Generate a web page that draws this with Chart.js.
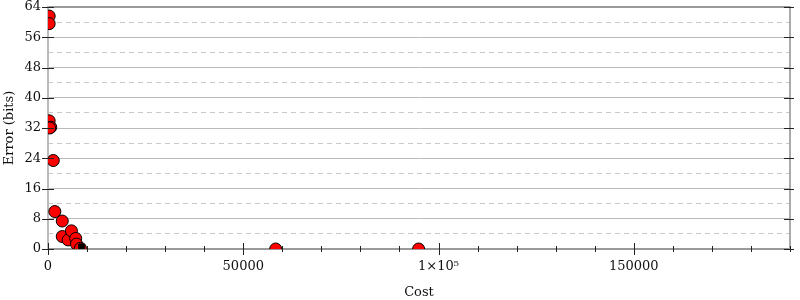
<!DOCTYPE html>
<html>
<head>
<meta charset="utf-8">
<script src="https://cdn.jsdelivr.net/npm/chart.js@4/dist/chart.umd.min.js"></script>
<style>
  html, body { margin: 0; padding: 0; background: #fff; }
  #wrap { width: 800px; height: 300px; }
</style>
</head>
<body>
<div id="wrap"><canvas id="errChart"></canvas></div>
<script>
// data
const costValues = [300, 300, 300, 700, 400, 1350, 1750, 3650, 3650, 5150, 6000, 7100, 7300, 8300, 58300, 94900];
const errorValues = [61.6, 59.6, 33.9, 32.2, 32.0, 23.4, 9.9, 7.4, 3.3, 2.4, 4.8, 2.8, 1.3, 0.2, 0, 0];
const bestCost = [8570];
const bestError = [0.6];
const xLabels = { 0: '0', 50000: '50000', 100000: '1×10⁵', 150000: '150000' };

const toPoints = (xs, ys) => xs.map((x, i) => ({ x: x, y: ys[i] }));

// gnuplot style mirrored tick marks
const tickMarks = {
    id: 'tickMarks',
    afterDraw(chart) {
        const { ctx, chartArea: a, scales } = chart;
        ctx.save();
        ctx.strokeStyle = '#222';
        ctx.lineWidth = 1;
        scales.x.ticks.forEach(t => {
            const px = Math.round(scales.x.getPixelForValue(t.value)) + 0.5;
            const major = t.value % 50000 === 0;
            ctx.beginPath();
            ctx.moveTo(px, a.bottom - (major ? 6 : 3));
            ctx.lineTo(px, a.bottom + (major ? 6 : 3));
            ctx.stroke();
        });
        scales.y.ticks.forEach(t => {
            const py = Math.round(scales.y.getPixelForValue(t.value)) + 0.5;
            const major = t.value % 8 === 0;
            const len = major ? 6 : 3;
            ctx.beginPath();
            ctx.moveTo(a.left - len, py);
            ctx.lineTo(a.left + len, py);
            ctx.moveTo(a.right - len, py);
            ctx.lineTo(a.right + (major ? 4 : 2), py);
            ctx.stroke();
        });
        ctx.restore();
    }
};

const serif = "'DejaVu Serif', serif";

new Chart(document.getElementById('errChart').getContext('2d'), {
    type: 'scatter',
    data: {
        datasets: [{
            label: 'runs',
            data: toPoints(costValues, errorValues),
            backgroundColor: '#ff0000',
            borderColor: '#000',
            borderWidth: 1,
            pointRadius: 6,
            pointHoverRadius: 6,
            order: 1
        }, {
            label: 'best',
            data: toPoints(bestCost, bestError),
            pointStyle: 'rect',
            backgroundColor: '#000',
            borderColor: '#000',
            pointRadius: 4,
            order: 0
        }]
    },
    options: {
        responsive: true,
        maintainAspectRatio: false,
        animation: false,
        layout: { padding: { top: 7, right: 6, left: 2, bottom: 0 } },
        plugins: { legend: { display: false }, tooltip: { enabled: false } },
        scales: {
            x: {
                type: 'linear',
                min: 0,
                max: 190000,
                afterFit: s => { s.height = 51; },
                grid: { display: true, drawOnChartArea: false, drawTicks: false },
                border: { color: '#999', width: 2 },
                ticks: {
                    stepSize: 10000,
                    autoSkip: false,
                    maxRotation: 0,
                    padding: 10,
                    color: '#111',
                    font: { family: serif, size: 13 },
                    callback: v => (v in xLabels ? xLabels[v] : '')
                },
                title: {
                    display: true,
                    text: 'Cost',
                    color: '#111',
                    font: { family: serif, size: 13 },
                    padding: { top: 10, bottom: 0 }
                }
            },
            y: {
                min: 0,
                max: 64,
                afterFit: s => { s.width = 46; s.paddingTop = 0; s.paddingBottom = 0; },
                grid: {
                    drawTicks: false,
                    color: c => (c.tick.value === 64 ? '#999' : (c.tick.value % 8 === 0 && c.tick.value > 0 ? '#bbb' : 'rgba(0,0,0,0)')),
                    lineWidth: c => (c.tick.value === 64 ? 2 : 1)
                },
                border: { color: '#bbb', width: 2 },
                ticks: {
                    stepSize: 4,
                    padding: 7,
                    color: '#111',
                    font: { family: serif, size: 13 },
                    callback: v => (v % 8 === 0 ? String(v) : '')
                },
                title: {
                    display: true,
                    text: 'Error (bits)',
                    color: '#111',
                    font: { family: serif, size: 13 },
                    padding: { top: 0, bottom: 0 }
                }
            },
            yMinor: {
                position: 'left',
                min: 0,
                max: 64,
                display: true,
                afterFit: s => { s.width = 0; s.paddingTop = 0; s.paddingBottom = 0; },
                grid: {
                    drawTicks: false,
                    color: c => (c.tick.value % 8 === 4 ? '#c8c8c8' : 'rgba(0,0,0,0)')
                },
                border: { display: false, dash: [5, 4] },
                ticks: { stepSize: 4, display: false }
            },
            yRight: {
                position: 'right',
                min: 0,
                max: 64,
                afterFit: s => { s.width = 0; s.paddingTop = 0; s.paddingBottom = 0; },
                grid: { drawOnChartArea: false, drawTicks: false },
                border: { color: '#aaa', width: 2 },
                ticks: { display: false }
            }
        }
    },
    plugins: [tickMarks]
});
</script>
</body>
</html>
